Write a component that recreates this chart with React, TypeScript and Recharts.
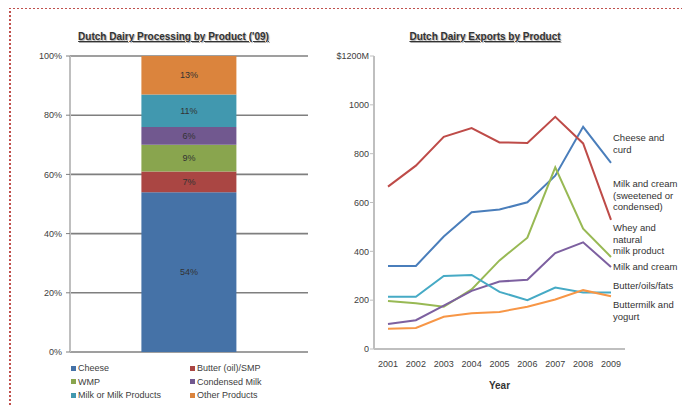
import { BarChart, Bar, LineChart, Line, XAxis, YAxis, CartesianGrid, LabelList, Label } from 'recharts';

// Processing shares, 2009 (percent)
const processingYear = ['2009'];
const processingKeys = ['cheese', 'butter', 'wmp', 'condensed', 'milk', 'other'];
const processingNames = ['Cheese', 'Butter (oil)/SMP', 'WMP', 'Condensed Milk', 'Milk or Milk Products', 'Other Products'];
const processingValues = [54, 7, 9, 6, 11, 13];
const processingColors = ['#4572a7', '#aa4643', '#89a54e', '#71588f', '#4198af', '#db843d'];
const percentTicks = [0, 20, 40, 60, 80, 100];

// Exports by product, $M
const years = ['2001', '2002', '2003', '2004', '2005', '2006', '2007', '2008', '2009'];
const cheeseCurd = [340, 340, 461, 560, 571, 601, 710, 910, 762];
const milkCreamSweet = [665, 751, 869, 905, 846, 844, 951, 842, 529];
const wheyNatural = [197, 187, 173, 244, 363, 456, 744, 493, 377];
const milkCream = [102, 118, 178, 238, 276, 284, 393, 437, 336];
const butterOils = [214, 214, 299, 303, 234, 200, 252, 231, 231];
const buttermilkYogurt = [83, 86, 132, 146, 152, 173, 203, 241, 216];
const exportTicks = [0, 200, 400, 600, 800, 1000, 1200];
const yearBoundaries = [0, 1, 2, 3, 4, 5, 6, 7, 8, 9];

const exportSeries = [
  { key: 'cheeseCurd', values: cheeseCurd, color: '#4a7ebb', label: ['Cheese and', 'curd'], top: 132 },
  { key: 'milkCreamSweet', values: milkCreamSweet, color: '#be4b48', label: ['Milk and cream', '(sweetened or', 'condensed)'], top: 178 },
  { key: 'wheyNatural', values: wheyNatural, color: '#98b954', label: ['Whey and', 'natural', 'milk product'], top: 222 },
  { key: 'milkCream', values: milkCream, color: '#7d60a0', label: ['Milk and cream'], top: 261 },
  { key: 'butterOils', values: butterOils, color: '#46aac5', label: ['Butter/oils/fats'], top: 280 },
  { key: 'buttermilkYogurt', values: buttermilkYogurt, color: '#f79646', label: ['Buttermilk and', 'yogurt'], top: 299 },
];

const processingData = processingYear.map((y) => {
  const row: Record<string, string | number> = { year: y };
  processingKeys.forEach((k, i) => (row[k] = processingValues[i]));
  return row;
});

const exportData = years.map((y, i) => {
  const row: Record<string, string | number> = { year: y };
  exportSeries.forEach((s) => (row[s.key] = s.values[i]));
  return row;
});

const font = '"Liberation Sans", Arial, sans-serif';
const tickStyle = { fontSize: 9, fill: '#404040', fontFamily: font };

const titleStyle: React.CSSProperties = {
  position: 'absolute',
  top: 31,
  fontFamily: font,
  fontSize: 10,
  fontWeight: 'bold',
  color: '#333',
  textDecoration: 'underline',
  textShadow: '1px 1px 1px #aaa',
  textAlign: 'center',
  whiteSpace: 'nowrap',
};

export default function App() {
  return (
    <div style={{ position: 'relative', width: 690, height: 407, margin: '-8px 0 0 -8px', background: '#fff', overflow: 'hidden' }}>
      {/* dotted frame */}
      <div style={{ position: 'absolute', left: 9, top: 7, width: 700, height: 420, borderLeft: '2px dotted #c0504d', borderTop: '2px dotted #c0504d' }} />

      <div style={{ ...titleStyle, left: 0, width: 347 }}>Dutch Dairy Processing by Product ('09)</div>
      <div style={{ ...titleStyle, left: 330, width: 310 }}>Dutch Dairy Exports by Product</div>

      <div style={{ position: 'absolute', left: 0, top: 0 }}>
        <BarChart width={345} height={407} data={processingData} margin={{ top: 56, right: 37, bottom: 55, left: 0 }} barCategoryGap="30%">
          <CartesianGrid horizontal vertical={false} stroke="#7f7f7f" strokeWidth={1.6} />
          <XAxis dataKey="year" hide />
          <YAxis
            width={70}
            domain={[0, 100]}
            ticks={percentTicks}
            tickFormatter={(v: number) => `${v}%`}
            tick={tickStyle}
            tickSize={4}
            tickMargin={4}
            axisLine={{ stroke: '#bfbfbf', strokeWidth: 2 }}
            tickLine={{ stroke: '#7f7f7f' }}
          />
          {processingKeys.map((k, i) => (
            <Bar key={k} dataKey={k} stackId="a" fill={processingColors[i]} isAnimationActive={false}>
              <LabelList dataKey={k} position="center" formatter={(v: number) => `${v}%`} style={{ fontSize: 9, fill: '#333', fontFamily: font }} />
            </Bar>
          ))}
        </BarChart>
      </div>

      {/* legend for processing chart */}
      {processingNames.map((n, i) => (
        <div
          key={n}
          style={{
            position: 'absolute',
            left: i % 2 === 0 ? 71 : 190,
            top: 363 + Math.floor(i / 2) * 13.5,
            fontFamily: font,
            fontSize: 9,
            color: '#404040',
            whiteSpace: 'nowrap',
            display: 'flex',
            alignItems: 'center',
          }}
        >
          <span style={{ display: 'inline-block', width: 5, height: 5, background: processingColors[i], marginRight: 2 }} />
          {n}
        </div>
      ))}

      <div style={{ position: 'absolute', left: 330, top: 0 }}>
        <LineChart width={360} height={407} data={exportData} margin={{ top: 56, right: 65, bottom: 0, left: 0 }}>
          {/* tick marks between the year categories */}
          <XAxis
            xAxisId="bounds"
            type="number"
            domain={[0, 9]}
            ticks={yearBoundaries}
            height={0}
            tick={false}
            tickSize={4}
            axisLine={false}
            tickLine={{ stroke: '#bfbfbf' }}
          />
          <XAxis
            dataKey="year"
            height={58}
            padding={{ left: 14, right: 14 }}
            tick={tickStyle}
            tickLine={false}
            tickSize={6}
            tickMargin={6}
            axisLine={{ stroke: '#bfbfbf', strokeWidth: 2 }}
          >
            <Label value="Year" position="insideBottom" offset={18} style={{ fontSize: 10, fontWeight: 'bold', fill: '#333', fontFamily: font }} />
          </XAxis>
          <YAxis
            width={44}
            domain={[0, 1200]}
            ticks={exportTicks}
            tickFormatter={(v: number) => (v === 1200 ? '$1200M' : `${v}`)}
            tick={tickStyle}
            tickSize={4}
            tickMargin={1}
            axisLine={{ stroke: '#bfbfbf', strokeWidth: 2 }}
            tickLine={{ stroke: '#bfbfbf' }}
          />
          {exportSeries.map((s) => (
            <Line key={s.key} type="linear" dataKey={s.key} stroke={s.color} strokeWidth={2} dot={false} isAnimationActive={false} />
          ))}
        </LineChart>
      </div>

      {/* series labels to the right of the lines */}
      {exportSeries.map((s) => (
        <div
          key={s.key}
          style={{ position: 'absolute', left: 613, top: s.top, fontFamily: font, fontSize: 9.5, lineHeight: '11.5px', color: '#333', whiteSpace: 'nowrap' }}
        >
          {s.label.map((l) => (
            <div key={l}>{l}</div>
          ))}
        </div>
      ))}
    </div>
  );
}
